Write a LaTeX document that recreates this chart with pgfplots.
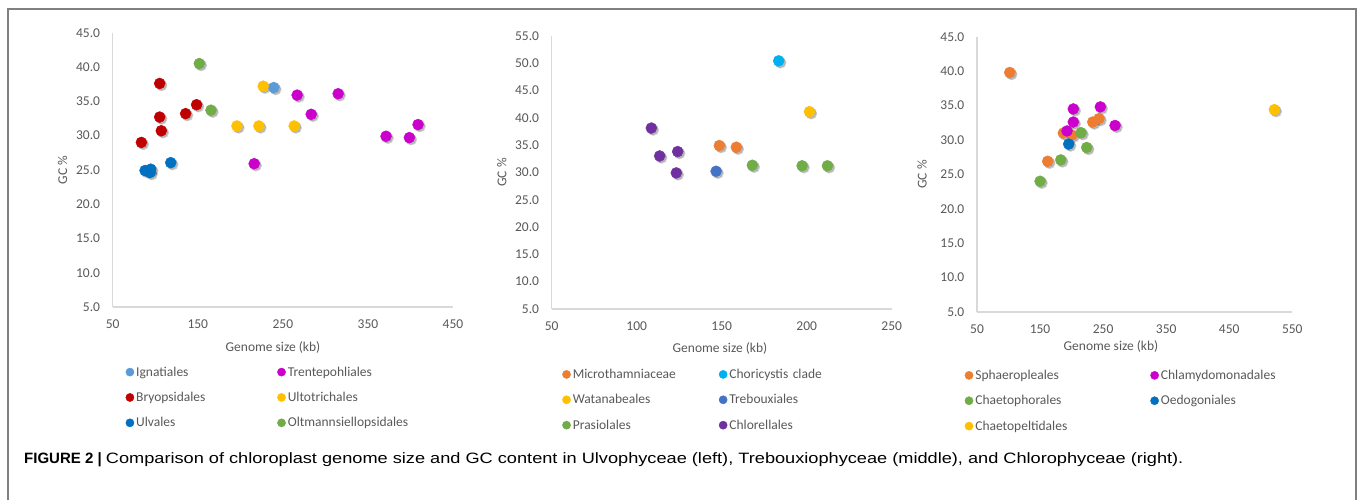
\documentclass[border=0pt]{standalone}
\usepackage{pgfplots}
\pgfplotsset{compat=1.18}
\usepackage{pgfplotstable}
\usepackage{fontspec}
\setmainfont{Carlito}
\newfontfamily\capfont{Liberation Sans}

\definecolor{axgray}{HTML}{D9D9D9}
\definecolor{txtgray}{HTML}{595959}
\definecolor{cIgn}{HTML}{5B9BD5}
\definecolor{cMag}{HTML}{CC00CC}
\definecolor{cRed}{HTML}{C00000}
\definecolor{cYel}{HTML}{FFC000}
\definecolor{cBlu}{HTML}{0070C0}
\definecolor{cGrn}{HTML}{70AD47}
\definecolor{cOra}{HTML}{ED7D31}
\definecolor{cCya}{HTML}{00B0F0}
\definecolor{cTre}{HTML}{4472C4}
\definecolor{cPur}{HTML}{7030A0}

% Ulvophyceae (left)
\pgfplotstableread{
x y
239.4 37.0
}\ignatiales
\pgfplotstableread{
x y
266.8 35.9
315.0 36.1
283.3 33.1
216.3 25.9
371.3 29.9
398.7 29.7
408.9 31.6
}\trentepohliales
\pgfplotstableread{
x y
105.2 37.6
148.6 34.5
135.7 33.2
105.2 32.7
107.1 30.7
83.7 29.0
}\bryopsidales
\pgfplotstableread{
x y
226.9 37.2
196.0 31.4
221.8 31.4
263.3 31.4
}\ultotrichales
\pgfplotstableread{
x y
88.0 24.9
94.7 25.1
93.9 24.6
118.2 26.05
}\ulvales
\pgfplotstableread{
x y
151.8 40.5
165.5 33.7
}\oltmann

% Trebouxiophyceae (middle)
\pgfplotstableread{
x y
148.6 34.9
158.6 34.6
}\microtham
\pgfplotstableread{
x y
183.5 50.4
}\choricystis
\pgfplotstableread{
x y
201.6 41.1
}\watanabe
\pgfplotstableread{
x y
146.7 30.2
}\trebouxiales
\pgfplotstableread{
x y
168.0 31.3
197.3 31.2
212.2 31.2
}\prasiolales
\pgfplotstableread{
x y
108.6 38.1
113.5 33.0
124.1 33.8
123.3 29.9
}\chlorellales

% Chlorophyceae (right)
\pgfplotstableread{
x y
101.9 39.8
162.1 26.9
186.9 31.0
200.7 30.7
233.5 32.6
243.5 33.1
}\sphaero
\pgfplotstableread{
x y
202.7 34.5
245.6 34.8
268.9 32.1
202.7 32.6
192.7 31.3
}\chlamydo
\pgfplotstableread{
x y
215.0 31.05
224.0 28.9
182.8 27.1
150.0 24.0
}\chaetoph
\pgfplotstableread{
x y
195.4 29.4
}\oedogon
\pgfplotstableread{
x y
521.5 34.4
}\chaetopel

\newcommand{\shadowplot}[1]{%
  \addplot[only marks, mark=*, mark size=5.6pt, draw=none, fill=black, opacity=0.12,
    mark options={xshift=2pt, yshift=-2pt}, forget plot] table {#1};
  \addplot[only marks, mark=*, mark size=5.4pt, draw=none, fill=black, opacity=0.16,
    mark options={xshift=1.4pt, yshift=-1.4pt}, forget plot] table {#1};}
\newcommand{\dotplot}[3]{%
  \addplot[only marks, mark=*, mark size=5.5pt, color=#2, mark options={draw=none, fill=#2}] table {#1};
  \addlegendentry{#3}}

\newcommand{\lblfont}{\fontsize{13.5}{15}\selectfont}

\pgfplotsset{
  gcstyle/.style={
    scale only axis,
    axis x line=bottom, axis y line=left,
    axis line style={-, draw=axgray, line width=1.2pt},
    tick style={draw=none},
    ticklabel style={font=\lblfont, text=txtgray},
    xticklabel style={yshift=-7pt},
    /pgf/number format/assume math mode=true,
    yticklabel style={xshift=-7pt, /pgf/number format/.cd, fixed, fixed zerofill, precision=1},
    scaled ticks=false,
    xlabel={Genome size (kb)}, ylabel={GC \%},
    clip=false,
    legend columns=2,
    legend cell align=left,
    legend style={draw=none, fill=none, inner sep=0pt, outer sep=0pt,
      font=\lblfont, text=txtgray, anchor=north west,
      /tikz/column sep=0pt, /tikz/row sep=11.5pt,
      nodes={inner sep=1.5pt, inner xsep=2pt}},
    legend image code/.code={\fill[##1] (0pt,0pt) circle (4.1pt);},
  },
}

\begin{document}
\begin{tikzpicture}
\fill[white] (0pt,0pt) rectangle (1360pt,500pt);
\draw[line width=2pt, draw=gray] (8pt,0pt) -- (8pt,491pt) -- (1356pt,491pt) -- (1356pt,0pt);

% left
\begin{axis}[gcstyle, at={(112.7pt,193pt)}, anchor=south west,
  width=340.3pt, height=274.3pt,
  xmin=50, xmax=450, ymin=5, ymax=45,
  xtick={50,150,250,350,450}, ytick={5,10,...,45},
  every axis x label/.style={at={(axis description cs:0.471,-0.146)}, anchor=center, font=\lblfont, text=txtgray},
  every axis y label/.style={at={(axis description cs:-0.147,0.5)}, rotate=90, anchor=center, font=\lblfont, text=txtgray},
  legend style={at={(axis description cs:0.038,-0.212)},
    /tikz/every even column/.append style={text width=139pt}},
]
\shadowplot{\ignatiales}\shadowplot{\trentepohliales}\shadowplot{\bryopsidales}
\shadowplot{\ultotrichales}\shadowplot{\ulvales}\shadowplot{\oltmann}
\dotplot{\ignatiales}{cIgn}{Ignatiales}
\dotplot{\trentepohliales}{cMag}{Trentepohliales}
\dotplot{\bryopsidales}{cRed}{Bryopsidales}
\dotplot{\ultotrichales}{cYel}{Ultotrichales}
\dotplot{\ulvales}{cBlu}{Ulvales}
\dotplot{\oltmann}{cGrn}{Oltmannsiellopsidales}
\end{axis}

% middle
\begin{axis}[gcstyle, at={(551.7pt,191pt)}, anchor=south west,
  width=340pt, height=273.3pt,
  xmin=50, xmax=250, ymin=5, ymax=55,
  xtick={50,100,...,250}, ytick={5,10,...,55},
  every axis x label/.style={at={(axis description cs:0.495,-0.146)}, anchor=center, font=\lblfont, text=txtgray},
  every axis y label/.style={at={(axis description cs:-0.147,0.5)}, rotate=90, anchor=center, font=\lblfont, text=txtgray},
  legend style={at={(axis description cs:0.031,-0.214)},
    /tikz/every even column/.append style={text width=144pt}},
]
\shadowplot{\microtham}\shadowplot{\choricystis}\shadowplot{\watanabe}
\shadowplot{\trebouxiales}\shadowplot{\prasiolales}\shadowplot{\chlorellales}
\dotplot{\microtham}{cOra}{Microthamniaceae}
\dotplot{\choricystis}{cCya}{Choricystis clade}
\dotplot{\watanabe}{cYel}{Watanabeales}
\dotplot{\trebouxiales}{cTre}{Trebouxiales}
\dotplot{\prasiolales}{cGrn}{Prasiolales}
\dotplot{\chlorellales}{cPur}{Chlorellales}
\end{axis}

% right
\begin{axis}[gcstyle, at={(977pt,188pt)}, anchor=south west,
  width=315.3pt, height=275.3pt,
  xmin=50, xmax=550, ymin=5, ymax=45,
  xtick={50,150,...,550}, ytick={5,10,...,45},
  every axis x label/.style={at={(axis description cs:0.425,-0.124)}, anchor=center, font=\lblfont, text=txtgray},
  every axis y label/.style={at={(axis description cs:-0.174,0.5)}, rotate=90, anchor=center, font=\lblfont, text=txtgray},
  legend style={at={(axis description cs:-0.039,-0.205)},
    /tikz/every even column/.append style={text width=173pt}},
]
\shadowplot{\sphaero}\shadowplot{\chlamydo}\shadowplot{\chaetoph}
\shadowplot{\oedogon}\shadowplot{\chaetopel}
\dotplot{\sphaero}{cOra}{Sphaeropleales}
\dotplot{\chlamydo}{cMag}{Chlamydomonadales}
\dotplot{\chaetoph}{cGrn}{Chaetophorales}
\dotplot{\oedogon}{cBlu}{Oedogoniales}
\dotplot{\chaetopel}{cYel}{Chaetopeltidales}
\end{axis}

\node[anchor=base west, font=\capfont\fontsize{15}{16}\selectfont, inner sep=0pt]
  at (24pt,37pt) {\textbf{FIGURE 2 |} \scalebox{1.212}[1]{\fontsize{15}{16}\selectfont Comparison of chloroplast genome size and GC content in Ulvophyceae (left), Trebouxiophyceae (middle), and Chlorophyceae (right).}};
\end{tikzpicture}
\end{document}
